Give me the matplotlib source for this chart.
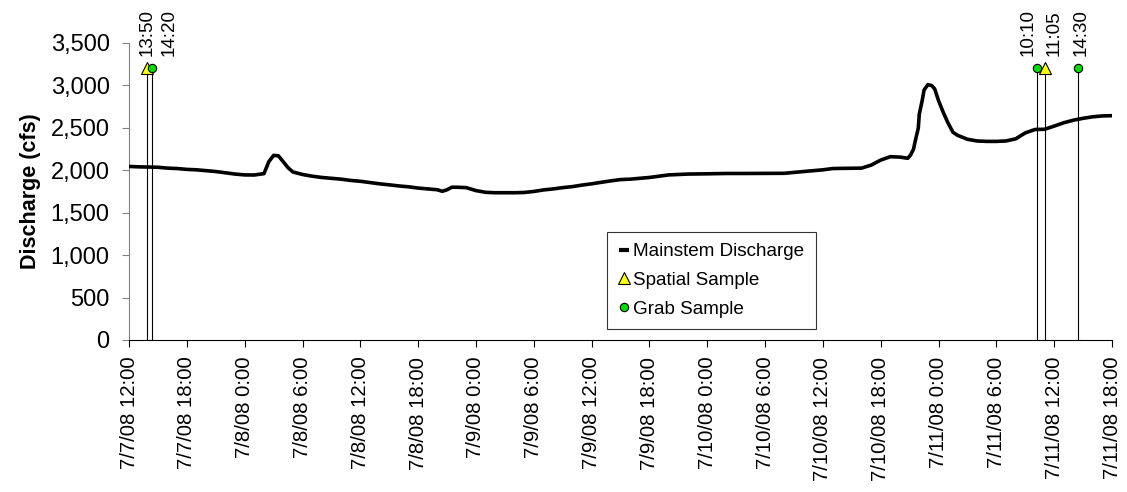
"""
Mainstem discharge hydrograph, 7/7/08 - 7/11/08, with sample times marked.
"""
import matplotlib
matplotlib.use("Agg")
import matplotlib.pyplot as plt
import matplotlib.dates as mdates
import matplotlib.ticker as mticker
import pandas as pd
from matplotlib.lines import Line2D

plt.rcParams["font.family"] = ["Liberation Sans", "DejaVu Sans"]

# ── Data ────────────────────────────────────────────────────────────────────
START = pd.Timestamp("2008-07-07 12:00")
END   = pd.Timestamp("2008-07-11 18:00")

# hours after START, discharge in cfs
hours = [0, 1, 2, 3, 4, 5, 6, 7, 8, 9, 10, 11, 12, 13, 14, 14.5, 15, 15.5,
         16, 16.5, 17, 18, 19, 20, 21, 22, 23, 24, 25, 26, 27, 28, 29, 30,
         31, 32, 32.5, 33, 33.5, 34, 35, 36, 37, 38, 39, 40, 41, 42, 43, 44,
         45, 46, 47, 48, 49, 50, 51, 52, 53, 54, 55, 56, 58, 60, 62, 64, 66,
         68, 70, 72, 73, 74, 76, 77, 78, 79, 80, 80.8, 81.1, 81.4, 81.6,
         81.9, 82.0, 82.3, 82.5, 82.9, 83.3, 83.6, 84.0, 84.5, 85.0, 85.5,
         86, 87, 88, 89, 90, 91, 92, 93, 94, 95, 96, 97, 98, 99, 100, 101,
         102]
discharge = [2045, 2040, 2038, 2035, 2025, 2020, 2010, 2005, 1995, 1985,
             1970, 1955, 1945, 1944, 1960, 2100, 2175, 2170, 2100, 2030,
             1980, 1950, 1930, 1915, 1905, 1895, 1880, 1870, 1855, 1840,
             1828, 1815, 1805, 1790, 1780, 1770, 1752, 1770, 1800, 1800,
             1795, 1760, 1740, 1735, 1735, 1735, 1738, 1750, 1768, 1780,
             1795, 1807, 1825, 1840, 1858, 1875, 1890, 1895, 1905, 1915,
             1930, 1945, 1955, 1958, 1962, 1962, 1963, 1964, 1985, 2005,
             2020, 2022, 2025, 2060, 2120, 2160, 2155, 2141, 2180, 2247,
             2353, 2498, 2660, 2820, 2946, 3009, 2997, 2958, 2820, 2679,
             2553, 2447, 2410, 2365, 2345, 2340, 2340, 2345, 2370, 2440,
             2480, 2483, 2520, 2560, 2590, 2612, 2630, 2640, 2643]

spatial_times = ["2008-07-07 13:50", "2008-07-11 11:05"]
grab_times    = ["2008-07-07 14:20", "2008-07-11 10:10", "2008-07-11 14:30"]
SAMPLE_LEVEL  = 3200

YELLOW = "#FFFF00"
GREEN  = "#00DD00"
GRAY   = "#808080"

# sideways nudge (points) so neighbouring time labels don't collide
LABEL_NUDGE = {"13:50": 0, "14:20": 13, "10:10": -6, "11:05": 6, "14:30": 2}

# ── Figure ──────────────────────────────────────────────────────────────────
fig = plt.figure(figsize=(11.27, 4.92), dpi=100)
fig.patch.set_facecolor("white")
ax = fig.add_axes([0.1145, 0.309, 0.8722, 0.6037])

times = START + pd.to_timedelta(hours, unit="h")
ax.plot(times, discharge, color="black", lw=2.6, solid_capstyle="butt",
        zorder=3)


def draw_samples(stamps, marker, color, size):
    ts = pd.to_datetime(stamps)
    lvl = [SAMPLE_LEVEL] * len(ts)
    ax.errorbar(ts, lvl, yerr=[lvl, [0] * len(ts)], fmt="none",
                ecolor="black", elinewidth=0.8, capsize=2.5, capthick=0.8,
                zorder=4)
    ax.plot(ts, lvl, ls="none", marker=marker, ms=size, mfc=color,
            mec="black", mew=0.8, zorder=5)
    for t in ts:
        txt = f"{t.hour}:{t.minute:02d}"
        ax.annotate(txt, (t, SAMPLE_LEVEL),
                    xytext=(LABEL_NUDGE.get(txt, 0), 9),
                    textcoords="offset points", rotation=90,
                    ha="center", va="bottom", fontsize=13.5)


draw_samples(spatial_times, "^", YELLOW, 9)
draw_samples(grab_times, "o", GREEN, 6)

# ── Axes styling ────────────────────────────────────────────────────────────
ax.set_xlim(START, END)
ax.set_ylim(0, 3500)
ax.yaxis.set_major_locator(mticker.MultipleLocator(500))
ax.yaxis.set_major_formatter(mticker.FuncFormatter(lambda v, p: f"{v:,.0f}"))
ax.xaxis.set_major_locator(mdates.HourLocator(byhour=[0, 6, 12, 18]))


def fmt_date(x, pos):
    d = mdates.num2date(x)
    return f"{d.month}/{d.day}/{d:%y} {d.hour}:{d:%M}"


ax.xaxis.set_major_formatter(mticker.FuncFormatter(fmt_date))
ax.tick_params(axis="x", labelsize=14.7, rotation=90, length=5, width=0.8,
               direction="out", pad=7)
ax.tick_params(axis="y", labelsize=17, length=5, width=0.8, color=GRAY,
               direction="out", pad=9)
ax.spines[["top", "right"]].set_visible(False)
ax.spines["left"].set_color(GRAY)
ax.spines["bottom"].set_color("black")

ax.set_ylabel("Discharge (cfs)", fontsize=15.5, fontweight="bold")
ax.yaxis.set_label_coords(-0.09, 0.5)

handles = [
    Line2D([], [], ls="none", marker="_", ms=7, mew=3, color="black"),
    Line2D([], [], ls="none", marker="^", ms=9, mfc=YELLOW, mec="black",
           mew=0.8),
    Line2D([], [], ls="none", marker="o", ms=6, mfc=GREEN, mec="black",
           mew=0.8),
]
labels = ["Mainstem Discharge", "Spatial Sample", "Grab Sample"]
leg = ax.legend(handles, labels, loc="upper left",
                bbox_to_anchor=(0.486, 0.364), fontsize=13.6, frameon=True,
                fancybox=False, handlelength=0.6, handletextpad=0.2,
                borderpad=0.6, labelspacing=0.6, borderaxespad=0)
leg.get_frame().set_edgecolor("black")
leg.get_frame().set_linewidth(0.8)

fig.savefig("out.png", dpi=100, facecolor=fig.get_facecolor())
